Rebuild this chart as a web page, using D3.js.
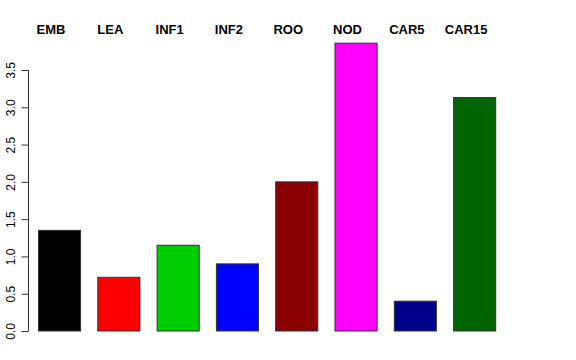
<!DOCTYPE html>
<html>
<head>
<meta charset="utf-8">
<script src="https://cdn.jsdelivr.net/npm/d3@7"></script>
<style>
body { margin: 0; background: #fff; }
text { font-family: "Liberation Sans", Arial, sans-serif; }
</style>
</head>
<body>
<svg id="chart" width="576" height="360"></svg>
<script>
var categories = ["EMB", "LEA", "INF1", "INF2", "ROO", "NOD", "CAR5", "CAR15"];
var values = [1.35, 0.72, 1.15, 0.90, 2.0, 3.86, 0.40, 3.13];
var colors = ["#000000", "#ff0000", "#00cd00", "#0000ff", "#8b0000", "#ff00ff", "#00008b", "#006400"];
var yTicks = [0, 0.5, 1, 1.5, 2, 2.5, 3, 3.5];

var svg = d3.select("#chart");

var x = d3.scaleBand()
    .domain(categories)
    .range([29.4, 503.8])
    .paddingInner(0.29)
    .paddingOuter(0.145);

var y = d3.scaleLinear()
    .domain([0, 3.5])
    .range([331, 70]);

// bars
svg.append("g")
    .selectAll("rect")
    .data(categories)
    .enter()
    .append("rect")
    .attr("x", function (d) { return x(d) + 0.5; })
    .attr("y", function (d, i) { return y(values[i]); })
    .attr("width", x.bandwidth())
    .attr("height", function (d, i) { return y(0) - y(values[i]); })
    .attr("fill", function (d, i) { return colors[i]; })
    .attr("stroke", "#333")
    .attr("stroke-width", 1);

// y axis
var axis = svg.append("g")
    .attr("transform", "translate(28.5,0)")
    .call(d3.axisLeft(y).tickValues(yTicks).tickSize(7).tickFormat(d3.format(".1f")));

axis.select(".domain").attr("stroke", "#333").attr("d", "M0," + y(0) + "V" + y(3.5));
axis.selectAll(".tick line").attr("stroke", "#333");
axis.selectAll(".tick text")
    .attr("font-size", 12)
    .attr("font-family", "Liberation Sans, Arial, sans-serif")
    .attr("fill", "#000")
    .attr("transform", "rotate(-90)")
    .attr("x", 0)
    .attr("y", -14)
    .attr("dy", 0)
    .attr("text-anchor", "middle");

// category labels on top
svg.append("g")
    .selectAll("text")
    .data(categories)
    .enter()
    .append("text")
    .attr("x", function (d) { return x(d) + x.bandwidth() / 2 - 8; })
    .attr("y", 34)
    .attr("text-anchor", "middle")
    .attr("font-size", 13)
    .attr("font-weight", "bold")
    .text(function (d) { return d; });
</script>
</body>
</html>
